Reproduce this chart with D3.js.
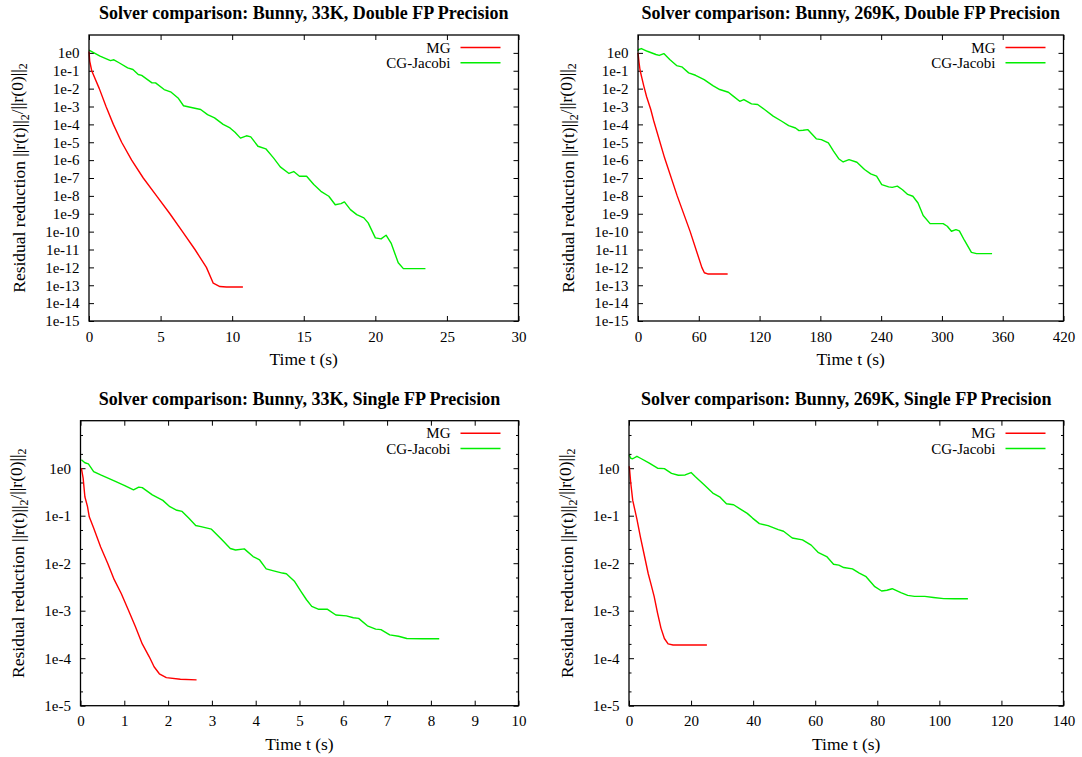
<!DOCTYPE html>
<html><head><meta charset="utf-8">
<script src="https://cdn.jsdelivr.net/npm/d3@7"></script>
<style>
body{margin:0;background:#fff}
svg{display:block}
text{font-family:"Liberation Serif","Times New Roman",serif;fill:#000}
</style>
</head><body>
<svg id="chart" width="1082" height="757"></svg>
<script>
// ---------- titles & labels ----------
const panelTitles = [
  "Solver comparison: Bunny, 33K, Double FP Precision",
  "Solver comparison: Bunny, 269K, Double FP Precision",
  "Solver comparison: Bunny, 33K, Single FP Precision",
  "Solver comparison: Bunny, 269K, Single FP Precision"
];
const seriesNames = ["MG", "CG-Jacobi"];
const xAxisTitle = "Time t (s)";

// ---------- tick values / labels ----------
const xTicksTL = [0, 5, 10, 15, 20, 25, 30];
const xTicksTR = [0, 60, 120, 180, 240, 300, 360, 420];
const xTicksBL = [0, 1, 2, 3, 4, 5, 6, 7, 8, 9, 10];
const xTicksBR = [0, 20, 40, 60, 80, 100, 120, 140];
const yTicksDouble = [1e0,1e-1,1e-2,1e-3,1e-4,1e-5,1e-6,1e-7,1e-8,1e-9,1e-10,1e-11,1e-12,1e-13,1e-14,1e-15];
const yLabelsDouble = ["1e0","1e-1","1e-2","1e-3","1e-4","1e-5","1e-6","1e-7","1e-8","1e-9","1e-10","1e-11","1e-12","1e-13","1e-14","1e-15"];
const yTicksSingle = [1e0,1e-1,1e-2,1e-3,1e-4,1e-5];
const yLabelsSingle = ["1e0","1e-1","1e-2","1e-3","1e-4","1e-5"];
const yMinorSingle = [2e-5,5e-5,2e-4,5e-4,2e-3,5e-3,2e-2,5e-2,2e-1,5e-1,2e0,5e0];

// ---------- data: 33K double ----------
const tlMgT = [0, 0.05, 0.19, 0.72, 1.19, 1.7, 2.28, 2.98, 3.79, 4.72, 5.65, 6.53, 7.4, 8.2, 8.68, 9.14, 9.6, 10.75];
const tlMgV = [1.2, 0.35, 0.1, 1e-2, 1e-3, 1e-4, 1e-5, 1e-6, 1e-7, 1e-8, 1e-9, 1e-10, 1e-11, 1e-12, 1.3e-13, 8.5e-14, 8e-14, 8e-14];
const tlCgT = [0, 0.77, 1.5, 1.74, 2.1, 2.7, 3.07, 3.44, 3.68, 4.4, 4.65, 5.25, 5.74, 6.22, 6.6, 7.07, 7.8, 8.28, 8.77, 9.37, 9.85, 10.2, 10.58, 11.0, 11.3, 11.8, 12.35, 12.9, 13.36, 13.97, 14.3, 14.7, 15.2, 15.7, 16.2, 16.75, 17.2, 17.6, 17.84, 18.26, 18.7, 19.2, 19.5, 20.0, 20.4, 20.75, 21.1, 21.6, 21.96, 23.5];
const tlCgV = [1.41, 0.65, 0.37, 0.41, 0.28, 0.145, 0.117, 0.062, 0.055, 0.021, 0.021, 8.9e-3, 6.3e-3, 3.0e-3, 1.1e-3, 9.1e-4, 6.8e-4, 3.5e-4, 2.3e-4, 1.0e-4, 6.3e-5, 3.6e-5, 1.7e-5, 2.3e-5, 2.0e-5, 6.0e-6, 4.3e-6, 1.3e-6, 4.2e-7, 1.8e-7, 2.3e-7, 1.26e-7, 1.26e-7, 4.3e-8, 1.8e-8, 9.5e-9, 3.2e-9, 3.7e-9, 4.6e-9, 1.7e-9, 8.9e-10, 5.9e-10, 3.1e-10, 4.5e-11, 3.9e-11, 6.3e-11, 2.3e-11, 1.8e-12, 8.5e-13, 8.5e-13];

// ---------- data: 269K double ----------
const trMgT = [0, 1, 2, 3.8, 5.8, 8.5, 12.6, 15.5, 26.3, 38.7, 51.5, 63, 65.5, 68.8, 88.5];
const trMgV = [1.0, 0.3, 0.11, 0.04, 0.0135, 3.5e-3, 6.8e-4, 1.6e-4, 1.3e-6, 1e-8, 1e-10, 1e-12, 5e-13, 4.3e-13, 4.3e-13];
const trCgT = [0, 0.7, 3.4, 9.2, 17.7, 21, 25.5, 31.3, 38.1, 43.2, 50, 56.8, 65.3, 73.9, 80.7, 89.2, 94.3, 100.4, 104.5, 112, 118.1, 124.9, 133.4, 141.9, 148.7, 155.5, 158.9, 163, 167.5, 176, 181, 187.9, 193, 198.1, 202.5, 208.3, 216.1, 223.6, 229.7, 235.5, 240.6, 247.4, 250.9, 256, 261.1, 266.2, 271.3, 276.4, 281.5, 288.3, 295.1, 301.2, 305.3, 309.4, 313.8, 317.2, 322.3, 329.1, 334.2, 349.5];
const trCgV = [1.26, 1.55, 1.74, 1.23, 0.81, 0.72, 0.91, 0.43, 0.195, 0.166, 0.076, 0.056, 0.032, 0.0148, 8.9e-3, 6.3e-3, 3.7e-3, 1.95e-3, 2.45e-3, 1.4e-3, 1.3e-3, 6.8e-4, 2.9e-4, 1.5e-4, 8.5e-5, 6.3e-5, 4.5e-5, 4.7e-5, 5.1e-5, 1.55e-5, 1.4e-5, 9.1e-6, 3.2e-6, 1.2e-6, 7.9e-7, 1.07e-6, 7.6e-7, 3.0e-7, 1.7e-7, 1.26e-7, 4.3e-8, 3.2e-8, 3.0e-8, 3.5e-8, 2.2e-8, 1.2e-8, 9.5e-9, 4.0e-9, 7.9e-10, 2.8e-10, 2.8e-10, 2.8e-10, 2.0e-10, 1.05e-10, 1.3e-10, 1.1e-10, 3.2e-11, 6.9e-12, 5.9e-12, 5.9e-12];

// ---------- data: 33K single ----------
const blMgT = [0.02, 0.06, 0.1, 0.16, 0.2, 0.3, 0.46, 0.62, 0.77, 0.93, 1.09, 1.25, 1.41, 1.57, 1.68, 1.8, 1.96, 2.28, 2.65];
const blMgV = [1.0, 0.62, 0.25, 0.155, 0.095, 0.055, 0.022, 0.01, 4.5e-3, 2.3e-3, 1.05e-3, 4.7e-4, 2.0e-4, 1.07e-4, 6.6e-5, 4.7e-5, 3.9e-5, 3.6e-5, 3.5e-5];
const blCgT = [0.02, 0.1, 0.18, 0.3, 0.46, 0.77, 1.01, 1.21, 1.33, 1.41, 1.64, 1.88, 2.04, 2.2, 2.32, 2.47, 2.63, 2.75, 2.99, 3.23, 3.42, 3.54, 3.74, 3.94, 4.09, 4.24, 4.41, 4.61, 4.7, 4.89, 5.04, 5.16, 5.28, 5.44, 5.64, 5.83, 6.07, 6.23, 6.35, 6.55, 6.74, 6.86, 7.06, 7.26, 7.45, 7.81, 8.19];
const blCgV = [1.5, 1.3, 1.23, 0.85, 0.72, 0.54, 0.43, 0.35, 0.4, 0.39, 0.275, 0.21, 0.155, 0.13, 0.123, 0.089, 0.062, 0.059, 0.052, 0.031, 0.0204, 0.019, 0.02, 0.0138, 0.0117, 7.6e-3, 6.9e-3, 6.2e-3, 6.0e-3, 4.1e-3, 2.5e-3, 1.7e-3, 1.23e-3, 1.07e-3, 1.07e-3, 8.1e-4, 7.8e-4, 7.1e-4, 6.9e-4, 4.8e-4, 4.1e-4, 4.0e-4, 3.1e-4, 2.9e-4, 2.6e-4, 2.57e-4, 2.57e-4];

// ---------- data: 269K single ----------
const brMgT = [0.1, 0.55, 1.2, 2.55, 3.7, 5.0, 6.2, 7.0, 8.1, 9.2, 10.3, 11.4, 12.6, 14.2, 25.1];
const brMgV = [1.1, 0.5, 0.21, 0.085, 0.035, 0.014, 6e-3, 3.8e-3, 2.0e-3, 8.9e-4, 4.3e-4, 2.6e-4, 2.0e-4, 1.9e-4, 1.9e-4];
const brCgT = [0.1, 0.55, 1.2, 2.55, 3.7, 6.4, 9.2, 11.4, 13.7, 15.9, 18.1, 20, 21.4, 24.2, 27, 29.2, 31.4, 33.7, 35.9, 38.1, 39.8, 42, 44.8, 48.1, 49.8, 52.6, 55.9, 58.7, 60.9, 63.7, 65.9, 67.6, 69.2, 72, 74.2, 76.4, 79.2, 81.4, 83.1, 84.8, 87.6, 89.8, 92, 95.3, 98.1, 101.4, 104.8, 109.2];
const brCgV = [1.9, 1.62, 1.58, 1.78, 1.62, 1.29, 1.0, 0.98, 0.78, 0.71, 0.72, 0.81, 0.66, 0.45, 0.3, 0.25, 0.178, 0.17, 0.138, 0.112, 0.089, 0.068, 0.062, 0.051, 0.047, 0.034, 0.031, 0.024, 0.017, 0.0138, 9.5e-3, 9.1e-3, 8.1e-3, 7.6e-3, 6.2e-3, 5.2e-3, 3.2e-3, 2.6e-3, 2.7e-3, 2.9e-3, 2.4e-3, 2.1e-3, 2.0e-3, 2.0e-3, 1.9e-3, 1.8e-3, 1.78e-3, 1.78e-3];

// ---------- layout ----------
const colors = ["#ff0000", "#00ee00"];
const panels = [
  {title: panelTitles[0], box: {l: 89, r: 518.5, t: 35, b: 321}, xMax: 30, xTicks: xTicksTL, yDom: [1e-15, 10], yTicks: yTicksDouble, yLabels: yLabelsDouble, yMinor: [], yTitleX: 19, mg: [tlMgT, tlMgV], cg: [tlCgT, tlCgV]},
  {title: panelTitles[1], box: {l: 638, r: 1063.5, t: 35, b: 321}, xMax: 420, xTicks: xTicksTR, yDom: [1e-15, 10], yTicks: yTicksDouble, yLabels: yLabelsDouble, yMinor: [], yTitleX: 568, mg: [trMgT, trMgV], cg: [trCgT, trCgV]},
  {title: panelTitles[2], box: {l: 80.5, r: 518.5, t: 420.7, b: 705.7}, xMax: 10, xTicks: xTicksBL, yDom: [1e-5, 10], yTicks: yTicksSingle, yLabels: yLabelsSingle, yMinor: yMinorSingle, yTitleX: 18, mg: [blMgT, blMgV], cg: [blCgT, blCgV]},
  {title: panelTitles[3], box: {l: 629, r: 1063.5, t: 420.7, b: 705.7}, xMax: 140, xTicks: xTicksBR, yDom: [1e-5, 10], yTicks: yTicksSingle, yLabels: yLabelsSingle, yMinor: yMinorSingle, yTitleX: 567, mg: [brMgT, brMgV], cg: [brCgT, brCgV]}
];

const svg = d3.select("#chart");

panels.forEach(p => {
  const {l, r, t, b} = p.box;
  const x = d3.scaleLinear().domain([0, p.xMax]).range([l, r]);
  const y = d3.scaleLog().domain(p.yDom).range([b, t]);
  const g = svg.append("g");

  const tickFont = s => s.selectAll("text").style("font-size", "15px").style("font-family", '"Liberation Serif", serif').attr("fill", "#000");
  const clean = s => { s.select(".domain").remove(); s.selectAll("line").attr("stroke", "#000").attr("stroke-width", 1); };

  g.append("g").attr("transform", `translate(0,${b})`)
    .call(d3.axisBottom(x).tickValues(p.xTicks).tickSize(-5).tickPadding(10).tickFormat(d3.format("d")))
    .call(clean).call(tickFont);
  g.append("g").attr("transform", `translate(0,${t})`)
    .call(d3.axisTop(x).tickValues(p.xTicks).tickSize(-5).tickFormat(""))
    .call(clean);
  g.append("g").attr("transform", `translate(${l},0)`)
    .call(d3.axisLeft(y).tickValues(p.yTicks).tickSize(-5).tickPadding(9.5).tickFormat((d, i) => p.yLabels[i]))
    .call(clean).call(tickFont);
  g.append("g").attr("transform", `translate(${r},0)`)
    .call(d3.axisRight(y).tickValues(p.yTicks).tickSize(-5).tickFormat(""))
    .call(clean);
  if (p.yMinor.length) {
    g.append("g").attr("transform", `translate(${l},0)`)
      .call(d3.axisLeft(y).tickValues(p.yMinor).tickSize(-2.5).tickFormat(""))
      .call(clean);
    g.append("g").attr("transform", `translate(${r},0)`)
      .call(d3.axisRight(y).tickValues(p.yMinor).tickSize(-2.5).tickFormat(""))
      .call(clean);
  }

  const line = d3.line().x(d => x(d[0])).y(d => y(d[1]));
  [p.mg, p.cg].forEach((s, i) => {
    const pts = s[0].map((tv, k) => [tv, s[1][k]]);
    g.append("path").datum(pts).attr("d", line)
      .attr("fill", "none").attr("stroke", colors[i]).attr("stroke-width", 1.4)
      .attr("stroke-linejoin", "round");
  });

  g.append("rect").attr("x", l).attr("y", t).attr("width", r - l).attr("height", b - t)
    .attr("fill", "none").attr("stroke", "#000").attr("stroke-width", 1.3);

  seriesNames.forEach((name, i) => {
    const ly = t + 12.5 + i * 15.3;
    g.append("text").attr("x", r - 68).attr("y", ly).attr("dy", "0.35em")
      .attr("text-anchor", "end").style("font-size", "15px").text(name);
    g.append("line").attr("x1", r - 58).attr("x2", r - 18).attr("y1", ly).attr("y2", ly)
      .attr("stroke", colors[i]).attr("stroke-width", 1.4);
  });

  g.append("text").attr("x", (l + r) / 2).attr("y", t - 16).attr("text-anchor", "middle")
    .style("font-size", "18px").style("font-weight", "bold").text(p.title);

  g.append("text").attr("x", (l + r) / 2).attr("y", b + 44).attr("text-anchor", "middle")
    .style("font-size", "17.5px").text(xAxisTitle);

  const yt = g.append("text")
    .attr("transform", `translate(${p.yTitleX},${(t + b) / 2}) rotate(-90)`)
    .attr("text-anchor", "middle").attr("dy", "0.35em").style("font-size", "17.5px");
  yt.append("tspan").text("Residual reduction ||r(t)||");
  yt.append("tspan").attr("dy", "0.3em").style("font-size", "12px").text("2");
  yt.append("tspan").attr("dy", "-0.3em").text("/||r(0)||");
  yt.append("tspan").attr("dy", "0.3em").style("font-size", "12px").text("2");
});
</script>
</body></html>
